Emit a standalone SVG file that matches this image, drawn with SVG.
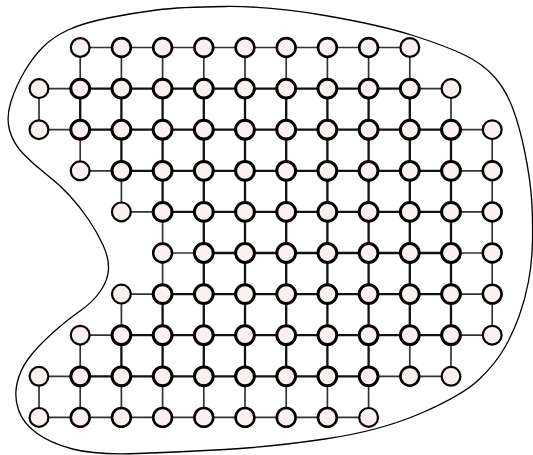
<svg xmlns="http://www.w3.org/2000/svg" width="533" height="455" viewBox="0 0 533 455">
<style>
.blob{fill:none;stroke:#000;stroke-width:1.3}
.e{fill:none;stroke:#333;stroke-width:1.7}
.E{fill:none;stroke:#111;stroke-width:2.3}
circle{fill:#f9f1ef;stroke:#000}
.d2{stroke-width:2.2}
.d3{stroke-width:2.6}
.d4{stroke-width:3}
</style>
<rect width="533" height="455" fill="#fff"/>
<path id="outline" class="blob" d="M 225 6.5 Q 270 6 325 15.5 Q 380 25 413 35.5 Q 446 46 464.5 55 Q 483 64 494.5 77 Q 506 90 513 109 Q 520 128 525 153 Q 530 178 531.5 198 Q 533 218 532.5 240.5 Q 532 263 528.5 281.5 Q 525 300 519 316.5 Q 513 333 504.5 348 Q 496 363 479.5 379 Q 463 395 421.5 413 Q 380 431 325 439 Q 270 447 225 449.5 Q 180 452 137.5 453.5 Q 95 455 72.5 449 Q 50 443 36.5 433 Q 23 423 18.5 410 Q 14 397 17 383.5 Q 20 370 28.5 358.5 Q 37 347 52 333.5 Q 67 320 80 311 Q 93 302 100.5 291 Q 108 280 108.5 269 Q 109 258 103 245 Q 97 232 88.5 219.5 Q 80 207 70 196 Q 60 185 46.5 174.5 Q 33 164 23 153.5 Q 13 143 9.5 130 Q 6 117 11 101.5 Q 16 86 24.5 71.5 Q 33 57 43 47 Q 53 37 68 30 Q 83 23 108 18 Q 133 13 156.5 10 Q 180 7 225 6.5 Z"/>
<g id="connectors">
<!-- row 0 -->
<path class="e" d="M80.2 47.5H121.4"/><path class="e" d="M121.4 47.5H162.6"/><path class="e" d="M162.6 47.5H203.8"/><path class="e" d="M203.8 47.5H245"/><path class="e" d="M245 47.5H286.2"/><path class="e" d="M286.2 47.5H327.4"/><path class="e" d="M327.4 47.5H368.6"/><path class="e" d="M368.6 47.5H409.8"/>
<!-- row 1 -->
<path class="e" d="M39 88.6H80.2"/><path class="E" d="M80.2 88.6H121.4"/><path class="E" d="M121.4 88.6H162.6"/><path class="E" d="M162.6 88.6H203.8"/><path class="E" d="M203.8 88.6H245"/><path class="E" d="M245 88.6H286.2"/><path class="E" d="M286.2 88.6H327.4"/><path class="E" d="M327.4 88.6H368.6"/><path class="E" d="M368.6 88.6H409.8"/><path class="e" d="M409.8 88.6H451"/>
<!-- row 2 -->
<path class="e" d="M39 129.7H80.2"/><path class="E" d="M80.2 129.7H121.4"/><path class="E" d="M121.4 129.7H162.6"/><path class="E" d="M162.6 129.7H203.8"/><path class="E" d="M203.8 129.7H245"/><path class="E" d="M245 129.7H286.2"/><path class="E" d="M286.2 129.7H327.4"/><path class="E" d="M327.4 129.7H368.6"/><path class="E" d="M368.6 129.7H409.8"/><path class="E" d="M409.8 129.7H451"/><path class="e" d="M451 129.7H492.2"/>
<!-- row 3 -->
<path class="e" d="M80.2 170.8H121.4"/><path class="E" d="M121.4 170.8H162.6"/><path class="E" d="M162.6 170.8H203.8"/><path class="E" d="M203.8 170.8H245"/><path class="E" d="M245 170.8H286.2"/><path class="E" d="M286.2 170.8H327.4"/><path class="E" d="M327.4 170.8H368.6"/><path class="E" d="M368.6 170.8H409.8"/><path class="E" d="M409.8 170.8H451"/><path class="e" d="M451 170.8H492.2"/>
<!-- row 4 -->
<path class="e" d="M121.4 211.9H162.6"/><path class="E" d="M162.6 211.9H203.8"/><path class="E" d="M203.8 211.9H245"/><path class="E" d="M245 211.9H286.2"/><path class="E" d="M286.2 211.9H327.4"/><path class="E" d="M327.4 211.9H368.6"/><path class="E" d="M368.6 211.9H409.8"/><path class="E" d="M409.8 211.9H451"/><path class="e" d="M451 211.9H492.2"/>
<!-- row 5 -->
<path class="e" d="M162.6 253H203.8"/><path class="E" d="M203.8 253H245"/><path class="E" d="M245 253H286.2"/><path class="E" d="M286.2 253H327.4"/><path class="E" d="M327.4 253H368.6"/><path class="E" d="M368.6 253H409.8"/><path class="E" d="M409.8 253H451"/><path class="e" d="M451 253H492.2"/>
<!-- row 6 -->
<path class="e" d="M121.4 294.1H162.6"/><path class="E" d="M162.6 294.1H203.8"/><path class="E" d="M203.8 294.1H245"/><path class="E" d="M245 294.1H286.2"/><path class="E" d="M286.2 294.1H327.4"/><path class="E" d="M327.4 294.1H368.6"/><path class="E" d="M368.6 294.1H409.8"/><path class="E" d="M409.8 294.1H451"/><path class="e" d="M451 294.1H492.2"/>
<!-- row 7 -->
<path class="e" d="M80.2 335.2H121.4"/><path class="E" d="M121.4 335.2H162.6"/><path class="E" d="M162.6 335.2H203.8"/><path class="E" d="M203.8 335.2H245"/><path class="E" d="M245 335.2H286.2"/><path class="E" d="M286.2 335.2H327.4"/><path class="E" d="M327.4 335.2H368.6"/><path class="E" d="M368.6 335.2H409.8"/><path class="E" d="M409.8 335.2H451"/><path class="e" d="M451 335.2H492.2"/>
<!-- row 8 -->
<path class="e" d="M39 376.3H80.2"/><path class="E" d="M80.2 376.3H121.4"/><path class="E" d="M121.4 376.3H162.6"/><path class="E" d="M162.6 376.3H203.8"/><path class="E" d="M203.8 376.3H245"/><path class="E" d="M245 376.3H286.2"/><path class="E" d="M286.2 376.3H327.4"/><path class="E" d="M327.4 376.3H368.6"/><path class="e" d="M368.6 376.3H409.8"/><path class="e" d="M409.8 376.3H451"/>
<!-- row 9 -->
<path class="e" d="M39 417.4H80.2"/><path class="e" d="M80.2 417.4H121.4"/><path class="e" d="M121.4 417.4H162.6"/><path class="e" d="M162.6 417.4H203.8"/><path class="e" d="M203.8 417.4H245"/><path class="e" d="M245 417.4H286.2"/><path class="e" d="M286.2 417.4H327.4"/><path class="e" d="M327.4 417.4H368.6"/>
<!-- col 0 -->
<path class="e" d="M39 88.6V129.7"/><path class="e" d="M39 376.3V417.4"/>
<!-- col 1 -->
<path class="e" d="M80.2 47.5V88.6"/><path class="E" d="M80.2 88.6V129.7"/><path class="e" d="M80.2 129.7V170.8"/><path class="e" d="M80.2 335.2V376.3"/><path class="e" d="M80.2 376.3V417.4"/>
<!-- col 2 -->
<path class="e" d="M121.4 47.5V88.6"/><path class="E" d="M121.4 88.6V129.7"/><path class="E" d="M121.4 129.7V170.8"/><path class="e" d="M121.4 170.8V211.9"/><path class="e" d="M121.4 294.1V335.2"/><path class="E" d="M121.4 335.2V376.3"/><path class="e" d="M121.4 376.3V417.4"/>
<!-- col 3 -->
<path class="e" d="M162.6 47.5V88.6"/><path class="E" d="M162.6 88.6V129.7"/><path class="E" d="M162.6 129.7V170.8"/><path class="E" d="M162.6 170.8V211.9"/><path class="e" d="M162.6 211.9V253"/><path class="e" d="M162.6 253V294.1"/><path class="E" d="M162.6 294.1V335.2"/><path class="E" d="M162.6 335.2V376.3"/><path class="e" d="M162.6 376.3V417.4"/>
<!-- col 4 -->
<path class="e" d="M203.8 47.5V88.6"/><path class="E" d="M203.8 88.6V129.7"/><path class="E" d="M203.8 129.7V170.8"/><path class="E" d="M203.8 170.8V211.9"/><path class="E" d="M203.8 211.9V253"/><path class="E" d="M203.8 253V294.1"/><path class="E" d="M203.8 294.1V335.2"/><path class="E" d="M203.8 335.2V376.3"/><path class="e" d="M203.8 376.3V417.4"/>
<!-- col 5 -->
<path class="e" d="M245 47.5V88.6"/><path class="E" d="M245 88.6V129.7"/><path class="E" d="M245 129.7V170.8"/><path class="E" d="M245 170.8V211.9"/><path class="E" d="M245 211.9V253"/><path class="E" d="M245 253V294.1"/><path class="E" d="M245 294.1V335.2"/><path class="E" d="M245 335.2V376.3"/><path class="e" d="M245 376.3V417.4"/>
<!-- col 6 -->
<path class="e" d="M286.2 47.5V88.6"/><path class="E" d="M286.2 88.6V129.7"/><path class="E" d="M286.2 129.7V170.8"/><path class="E" d="M286.2 170.8V211.9"/><path class="E" d="M286.2 211.9V253"/><path class="E" d="M286.2 253V294.1"/><path class="E" d="M286.2 294.1V335.2"/><path class="E" d="M286.2 335.2V376.3"/><path class="e" d="M286.2 376.3V417.4"/>
<!-- col 7 -->
<path class="e" d="M327.4 47.5V88.6"/><path class="E" d="M327.4 88.6V129.7"/><path class="E" d="M327.4 129.7V170.8"/><path class="E" d="M327.4 170.8V211.9"/><path class="E" d="M327.4 211.9V253"/><path class="E" d="M327.4 253V294.1"/><path class="E" d="M327.4 294.1V335.2"/><path class="E" d="M327.4 335.2V376.3"/><path class="e" d="M327.4 376.3V417.4"/>
<!-- col 8 -->
<path class="e" d="M368.6 47.5V88.6"/><path class="E" d="M368.6 88.6V129.7"/><path class="E" d="M368.6 129.7V170.8"/><path class="E" d="M368.6 170.8V211.9"/><path class="E" d="M368.6 211.9V253"/><path class="E" d="M368.6 253V294.1"/><path class="E" d="M368.6 294.1V335.2"/><path class="E" d="M368.6 335.2V376.3"/><path class="e" d="M368.6 376.3V417.4"/>
<!-- col 9 -->
<path class="e" d="M409.8 47.5V88.6"/><path class="E" d="M409.8 88.6V129.7"/><path class="E" d="M409.8 129.7V170.8"/><path class="E" d="M409.8 170.8V211.9"/><path class="E" d="M409.8 211.9V253"/><path class="E" d="M409.8 253V294.1"/><path class="E" d="M409.8 294.1V335.2"/><path class="e" d="M409.8 335.2V376.3"/>
<!-- col 10 -->
<path class="e" d="M451 88.6V129.7"/><path class="E" d="M451 129.7V170.8"/><path class="E" d="M451 170.8V211.9"/><path class="E" d="M451 211.9V253"/><path class="E" d="M451 253V294.1"/><path class="E" d="M451 294.1V335.2"/><path class="e" d="M451 335.2V376.3"/>
<!-- col 11 -->
<path class="e" d="M492.2 129.7V170.8"/><path class="e" d="M492.2 170.8V211.9"/><path class="e" d="M492.2 211.9V253"/><path class="e" d="M492.2 253V294.1"/><path class="e" d="M492.2 294.1V335.2"/>
</g>
<g id="nodes">
<!-- row 0 -->
<g id="n0-1"><circle class="d2" cx="80.2" cy="47.5" r="9.4"/></g>
<g id="n0-2"><circle class="d3" cx="121.4" cy="47.5" r="9.4"/></g>
<g id="n0-3"><circle class="d3" cx="162.6" cy="47.5" r="9.4"/></g>
<g id="n0-4"><circle class="d3" cx="203.8" cy="47.5" r="9.4"/></g>
<g id="n0-5"><circle class="d3" cx="245" cy="47.5" r="9.4"/></g>
<g id="n0-6"><circle class="d3" cx="286.2" cy="47.5" r="9.4"/></g>
<g id="n0-7"><circle class="d3" cx="327.4" cy="47.5" r="9.4"/></g>
<g id="n0-8"><circle class="d3" cx="368.6" cy="47.5" r="9.4"/></g>
<g id="n0-9"><circle class="d2" cx="409.8" cy="47.5" r="9.4"/></g>
<!-- row 1 -->
<g id="n1-0"><circle class="d2" cx="39" cy="88.6" r="9.4"/></g>
<g id="n1-1"><circle class="d4" cx="80.2" cy="88.6" r="9.4"/></g>
<g id="n1-2"><circle class="d4" cx="121.4" cy="88.6" r="9.4"/></g>
<g id="n1-3"><circle class="d4" cx="162.6" cy="88.6" r="9.4"/></g>
<g id="n1-4"><circle class="d4" cx="203.8" cy="88.6" r="9.4"/></g>
<g id="n1-5"><circle class="d4" cx="245" cy="88.6" r="9.4"/></g>
<g id="n1-6"><circle class="d4" cx="286.2" cy="88.6" r="9.4"/></g>
<g id="n1-7"><circle class="d4" cx="327.4" cy="88.6" r="9.4"/></g>
<g id="n1-8"><circle class="d4" cx="368.6" cy="88.6" r="9.4"/></g>
<g id="n1-9"><circle class="d4" cx="409.8" cy="88.6" r="9.4"/></g>
<g id="n1-10"><circle class="d2" cx="451" cy="88.6" r="9.4"/></g>
<!-- row 2 -->
<g id="n2-0"><circle class="d2" cx="39" cy="129.7" r="9.4"/></g>
<g id="n2-1"><circle class="d4" cx="80.2" cy="129.7" r="9.4"/></g>
<g id="n2-2"><circle class="d4" cx="121.4" cy="129.7" r="9.4"/></g>
<g id="n2-3"><circle class="d4" cx="162.6" cy="129.7" r="9.4"/></g>
<g id="n2-4"><circle class="d4" cx="203.8" cy="129.7" r="9.4"/></g>
<g id="n2-5"><circle class="d4" cx="245" cy="129.7" r="9.4"/></g>
<g id="n2-6"><circle class="d4" cx="286.2" cy="129.7" r="9.4"/></g>
<g id="n2-7"><circle class="d4" cx="327.4" cy="129.7" r="9.4"/></g>
<g id="n2-8"><circle class="d4" cx="368.6" cy="129.7" r="9.4"/></g>
<g id="n2-9"><circle class="d4" cx="409.8" cy="129.7" r="9.4"/></g>
<g id="n2-10"><circle class="d4" cx="451" cy="129.7" r="9.4"/></g>
<g id="n2-11"><circle class="d2" cx="492.2" cy="129.7" r="9.4"/></g>
<!-- row 3 -->
<g id="n3-1"><circle class="d2" cx="80.2" cy="170.8" r="9.4"/></g>
<g id="n3-2"><circle class="d4" cx="121.4" cy="170.8" r="9.4"/></g>
<g id="n3-3"><circle class="d4" cx="162.6" cy="170.8" r="9.4"/></g>
<g id="n3-4"><circle class="d4" cx="203.8" cy="170.8" r="9.4"/></g>
<g id="n3-5"><circle class="d4" cx="245" cy="170.8" r="9.4"/></g>
<g id="n3-6"><circle class="d4" cx="286.2" cy="170.8" r="9.4"/></g>
<g id="n3-7"><circle class="d4" cx="327.4" cy="170.8" r="9.4"/></g>
<g id="n3-8"><circle class="d4" cx="368.6" cy="170.8" r="9.4"/></g>
<g id="n3-9"><circle class="d4" cx="409.8" cy="170.8" r="9.4"/></g>
<g id="n3-10"><circle class="d4" cx="451" cy="170.8" r="9.4"/></g>
<g id="n3-11"><circle class="d3" cx="492.2" cy="170.8" r="9.4"/></g>
<!-- row 4 -->
<g id="n4-2"><circle class="d2" cx="121.4" cy="211.9" r="9.4"/></g>
<g id="n4-3"><circle class="d4" cx="162.6" cy="211.9" r="9.4"/></g>
<g id="n4-4"><circle class="d4" cx="203.8" cy="211.9" r="9.4"/></g>
<g id="n4-5"><circle class="d4" cx="245" cy="211.9" r="9.4"/></g>
<g id="n4-6"><circle class="d4" cx="286.2" cy="211.9" r="9.4"/></g>
<g id="n4-7"><circle class="d4" cx="327.4" cy="211.9" r="9.4"/></g>
<g id="n4-8"><circle class="d4" cx="368.6" cy="211.9" r="9.4"/></g>
<g id="n4-9"><circle class="d4" cx="409.8" cy="211.9" r="9.4"/></g>
<g id="n4-10"><circle class="d4" cx="451" cy="211.9" r="9.4"/></g>
<g id="n4-11"><circle class="d3" cx="492.2" cy="211.9" r="9.4"/></g>
<!-- row 5 -->
<g id="n5-3"><circle class="d3" cx="162.6" cy="253" r="9.4"/></g>
<g id="n5-4"><circle class="d4" cx="203.8" cy="253" r="9.4"/></g>
<g id="n5-5"><circle class="d4" cx="245" cy="253" r="9.4"/></g>
<g id="n5-6"><circle class="d4" cx="286.2" cy="253" r="9.4"/></g>
<g id="n5-7"><circle class="d4" cx="327.4" cy="253" r="9.4"/></g>
<g id="n5-8"><circle class="d4" cx="368.6" cy="253" r="9.4"/></g>
<g id="n5-9"><circle class="d4" cx="409.8" cy="253" r="9.4"/></g>
<g id="n5-10"><circle class="d4" cx="451" cy="253" r="9.4"/></g>
<g id="n5-11"><circle class="d3" cx="492.2" cy="253" r="9.4"/></g>
<!-- row 6 -->
<g id="n6-2"><circle class="d2" cx="121.4" cy="294.1" r="9.4"/></g>
<g id="n6-3"><circle class="d4" cx="162.6" cy="294.1" r="9.4"/></g>
<g id="n6-4"><circle class="d4" cx="203.8" cy="294.1" r="9.4"/></g>
<g id="n6-5"><circle class="d4" cx="245" cy="294.1" r="9.4"/></g>
<g id="n6-6"><circle class="d4" cx="286.2" cy="294.1" r="9.4"/></g>
<g id="n6-7"><circle class="d4" cx="327.4" cy="294.1" r="9.4"/></g>
<g id="n6-8"><circle class="d4" cx="368.6" cy="294.1" r="9.4"/></g>
<g id="n6-9"><circle class="d4" cx="409.8" cy="294.1" r="9.4"/></g>
<g id="n6-10"><circle class="d4" cx="451" cy="294.1" r="9.4"/></g>
<g id="n6-11"><circle class="d3" cx="492.2" cy="294.1" r="9.4"/></g>
<!-- row 7 -->
<g id="n7-1"><circle class="d2" cx="80.2" cy="335.2" r="9.4"/></g>
<g id="n7-2"><circle class="d4" cx="121.4" cy="335.2" r="9.4"/></g>
<g id="n7-3"><circle class="d4" cx="162.6" cy="335.2" r="9.4"/></g>
<g id="n7-4"><circle class="d4" cx="203.8" cy="335.2" r="9.4"/></g>
<g id="n7-5"><circle class="d4" cx="245" cy="335.2" r="9.4"/></g>
<g id="n7-6"><circle class="d4" cx="286.2" cy="335.2" r="9.4"/></g>
<g id="n7-7"><circle class="d4" cx="327.4" cy="335.2" r="9.4"/></g>
<g id="n7-8"><circle class="d4" cx="368.6" cy="335.2" r="9.4"/></g>
<g id="n7-9"><circle class="d4" cx="409.8" cy="335.2" r="9.4"/></g>
<g id="n7-10"><circle class="d4" cx="451" cy="335.2" r="9.4"/></g>
<g id="n7-11"><circle class="d2" cx="492.2" cy="335.2" r="9.4"/></g>
<!-- row 8 -->
<g id="n8-0"><circle class="d2" cx="39" cy="376.3" r="9.4"/></g>
<g id="n8-1"><circle class="d4" cx="80.2" cy="376.3" r="9.4"/></g>
<g id="n8-2"><circle class="d4" cx="121.4" cy="376.3" r="9.4"/></g>
<g id="n8-3"><circle class="d4" cx="162.6" cy="376.3" r="9.4"/></g>
<g id="n8-4"><circle class="d4" cx="203.8" cy="376.3" r="9.4"/></g>
<g id="n8-5"><circle class="d4" cx="245" cy="376.3" r="9.4"/></g>
<g id="n8-6"><circle class="d4" cx="286.2" cy="376.3" r="9.4"/></g>
<g id="n8-7"><circle class="d4" cx="327.4" cy="376.3" r="9.4"/></g>
<g id="n8-8"><circle class="d4" cx="368.6" cy="376.3" r="9.4"/></g>
<g id="n8-9"><circle class="d3" cx="409.8" cy="376.3" r="9.4"/></g>
<g id="n8-10"><circle class="d2" cx="451" cy="376.3" r="9.4"/></g>
<!-- row 9 -->
<g id="n9-0"><circle class="d2" cx="39" cy="417.4" r="9.4"/></g>
<g id="n9-1"><circle class="d3" cx="80.2" cy="417.4" r="9.4"/></g>
<g id="n9-2"><circle class="d3" cx="121.4" cy="417.4" r="9.4"/></g>
<g id="n9-3"><circle class="d3" cx="162.6" cy="417.4" r="9.4"/></g>
<g id="n9-4"><circle class="d3" cx="203.8" cy="417.4" r="9.4"/></g>
<g id="n9-5"><circle class="d3" cx="245" cy="417.4" r="9.4"/></g>
<g id="n9-6"><circle class="d3" cx="286.2" cy="417.4" r="9.4"/></g>
<g id="n9-7"><circle class="d3" cx="327.4" cy="417.4" r="9.4"/></g>
<g id="n9-8"><circle class="d2" cx="368.6" cy="417.4" r="9.4"/></g>
</g>
</svg>
